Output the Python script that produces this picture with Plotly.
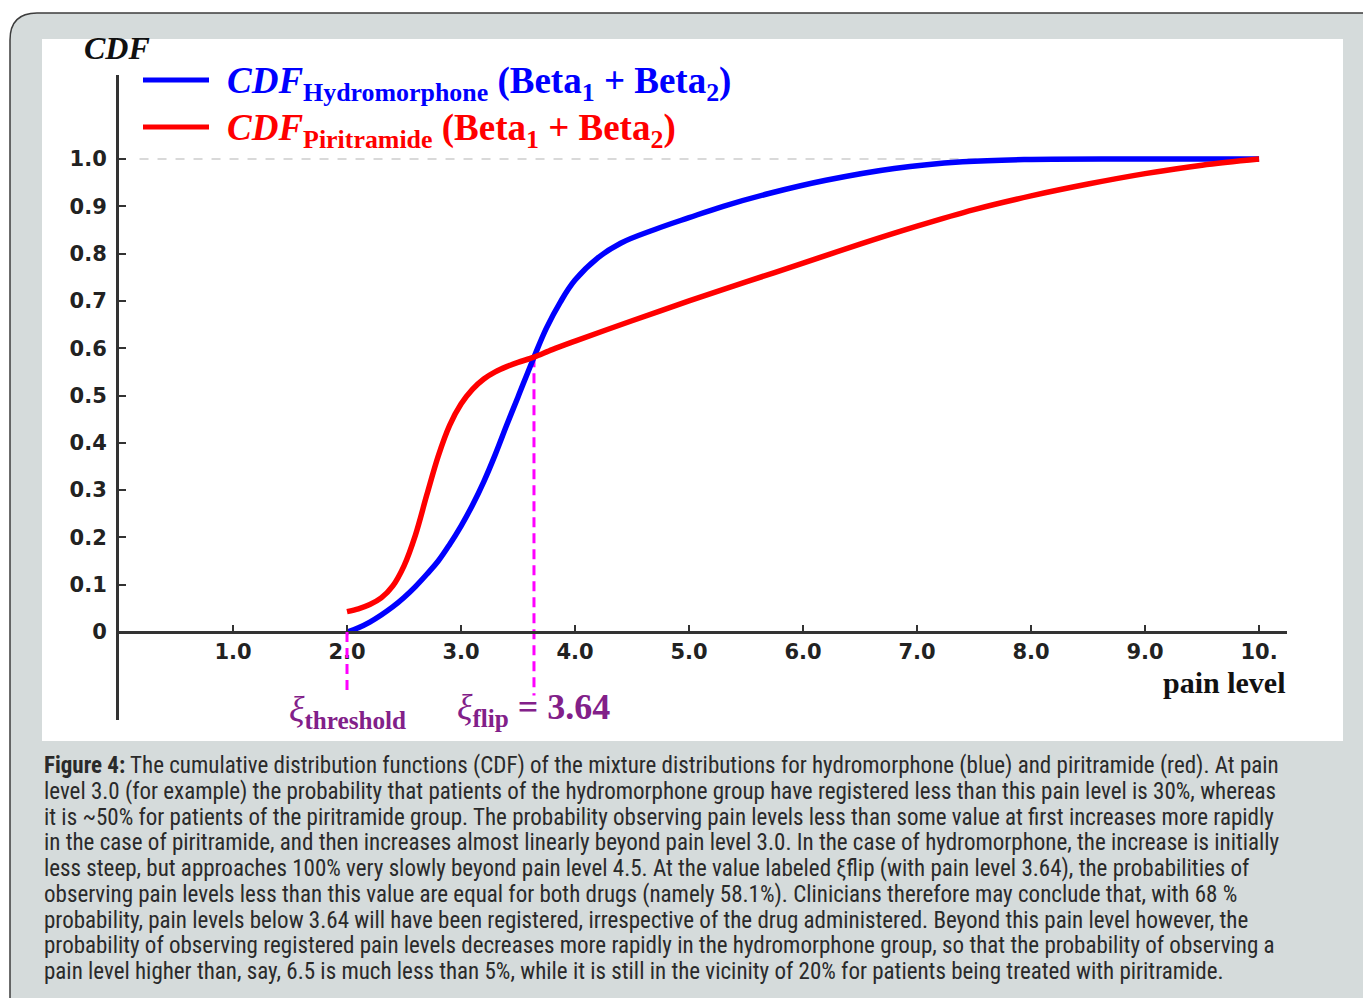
import plotly.graph_objects as go

W, H = 1363, 998

# ---- data ----
pain_hydro = [2.0, 2.1, 2.2, 2.3, 2.4, 2.5, 2.6, 2.7, 2.8, 2.9, 3.0, 3.1, 3.2, 3.3, 3.4, 3.5,
              3.64, 3.75, 3.87, 4.0, 4.2, 4.4, 4.7, 5.0, 5.3, 5.7, 6.2, 6.8, 7.4, 8.0, 9.0, 10.0]
cdf_hydro = [0.0, 0.009, 0.021, 0.036, 0.053, 0.073, 0.096, 0.122, 0.150, 0.185, 0.224, 0.268,
             0.318, 0.375, 0.437, 0.497, 0.581, 0.643, 0.697, 0.744, 0.791, 0.822, 0.851, 0.876,
             0.900, 0.927, 0.955, 0.980, 0.994, 0.999, 1.0, 1.0]

pain_pirit = [2.0, 2.1, 2.2, 2.3, 2.4, 2.5, 2.6, 2.7, 2.8, 2.9, 3.0, 3.1, 3.2, 3.3, 3.4, 3.5,
              3.64, 3.8, 4.0, 4.5, 5.0, 5.5, 6.0, 6.5, 7.0, 7.5, 8.0, 8.5, 9.0, 9.5, 10.0]
cdf_pirit = [0.043, 0.049, 0.058, 0.072, 0.097, 0.140, 0.205, 0.290, 0.372, 0.437, 0.482, 0.513,
             0.535, 0.550, 0.561, 0.570, 0.581, 0.597, 0.615, 0.658, 0.700, 0.740, 0.780, 0.820,
             0.858, 0.893, 0.922, 0.947, 0.969, 0.987, 1.0]

x_tick_vals = [1, 2, 3, 4, 5, 6, 7, 8, 9, 10]
x_tick_text = ["1.0", "2.0", "3.0", "4.0", "5.0", "6.0", "7.0", "8.0", "9.0", "10."]
y_tick_vals = [0, 0.1, 0.2, 0.3, 0.4, 0.5, 0.6, 0.7, 0.8, 0.9, 1.0]
y_tick_text = ["0", "0.1", "0.2", "0.3", "0.4", "0.5", "0.6", "0.7", "0.8", "0.9", "1.0"]

XI_THRESHOLD = 2.0
XI_FLIP = 3.64
CDF_FLIP = 0.581
CDF_MAX = 1.0

caption_lines = [
    "<b>Figure 4:</b> The cumulative distribution functions (CDF) of the mixture distributions for hydromorphone (blue) and piritramide (red). At pain",
    "level 3.0 (for example) the probability that patients of the hydromorphone group have registered less than this pain level is 30%, whereas",
    "it is ~50% for patients of the piritramide group. The probability observing pain levels less than some value at first increases more rapidly",
    "in the case of piritramide, and then increases almost linearly beyond pain level 3.0. In the case of hydromorphone, the increase is initially",
    "less steep, but approaches 100% very slowly beyond pain level 4.5. At the value labeled ξflip (with pain level 3.64), the probabilities of",
    "observing pain levels less than this value are equal for both drugs (namely 58.1%). Clinicians therefore may conclude that, with 68 %",
    "probability, pain levels below 3.64 will have been registered, irrespective of the drug administered. Beyond this pain level however, the",
    "probability of observing registered pain levels decreases more rapidly in the hydromorphone group, so that the probability of observing a",
    "pain level higher than, say, 6.5 is much less than 5%, while it is still in the vicinity of 20% for patients being treated with piritramide.",
]


def px(x):
    return x / W


def py(y):
    return 1 - y / H


SERIF = "Liberation Serif, Times New Roman, serif"
PURPLE = "#822089"
TICKFONT = dict(family="DejaVu Sans", size=21, color="#222222", weight="bold")

fig = go.Figure()
fig.add_trace(go.Scatter(x=pain_hydro, y=cdf_hydro, mode="lines",
                         line=dict(color="#0000ff", width=5.5, shape="spline", smoothing=1.1),
                         showlegend=False, hoverinfo="skip"))
fig.add_trace(go.Scatter(x=pain_pirit, y=cdf_pirit, mode="lines",
                         line=dict(color="#ff0000", width=5.5, shape="spline", smoothing=0.9),
                         showlegend=False, hoverinfo="skip"))

shapes = []
# gray outer panel with rounded top-left corner
path = (f"M {px(10)},{py(1020)} L {px(10)},{py(40)} Q {px(10)},{py(13)} {px(37)},{py(13)} "
        f"L {px(1380)},{py(13)} L {px(1380)},{py(1020)} Z")
shapes.append(dict(type="path", path=path, xref="paper", yref="paper",
                   fillcolor="#d5dbdb", line=dict(color="#3c3c3c", width=1.5), layer="below"))
# white inner panel
shapes.append(dict(type="rect", xref="paper", yref="paper", x0=px(42), x1=px(1343),
                   y0=py(741), y1=py(39), fillcolor="white", line=dict(width=0), layer="below"))
# gray dashed line at CDF = 1
shapes.append(dict(type="line", xref="x", yref="y", x0=0.18, x1=10.0, y0=CDF_MAX, y1=CDF_MAX,
                   line=dict(color="#d9d9d9", width=2, dash="9px,9px"), layer="below"))
# magenta dashed markers
shapes.append(dict(type="line", xref="x", yref="y", x0=XI_THRESHOLD, x1=XI_THRESHOLD, y0=0, y1=-0.125,
                   line=dict(color="#ff00ff", width=3, dash="10px,6px")))
shapes.append(dict(type="line", xref="x", yref="y", x0=XI_FLIP, x1=XI_FLIP, y0=CDF_FLIP, y1=-0.134,
                   line=dict(color="#ff00ff", width=3, dash="10px,6px"), layer="below"))
# legend line samples
shapes.append(dict(type="line", xref="paper", yref="paper", x0=px(143), x1=px(209), y0=py(80), y1=py(80),
                   line=dict(color="#0000ff", width=5)))
shapes.append(dict(type="line", xref="paper", yref="paper", x0=px(143), x1=px(209), y0=py(127), y1=py(127),
                   line=dict(color="#ff0000", width=5)))

annotations = []
annotations.append(dict(text="<b><i>CDF</i></b>", xref="paper", yref="paper", x=px(82), y=py(48),
                        xanchor="left", yanchor="middle", showarrow=False,
                        font=dict(family=SERIF, size=32, color="#111111")))
annotations.append(dict(text="<b><i>CDF</i></b><b><sub>Hydromorphone</sub> (Beta<sub>1</sub> + Beta<sub>2</sub>)</b>",
                        xref="paper", yref="paper", x=px(225), y=py(83), xanchor="left", yanchor="middle",
                        showarrow=False, font=dict(family=SERIF, size=37, color="#0000ff")))
annotations.append(dict(text="<b><i>CDF</i></b><b><sub>Piritramide</sub> (Beta<sub>1</sub> + Beta<sub>2</sub>)</b>",
                        xref="paper", yref="paper", x=px(225), y=py(131), xanchor="left", yanchor="middle",
                        showarrow=False, font=dict(family=SERIF, size=37, color="#ff0000")))
annotations.append(dict(text="<b>pain level</b>", xref="paper", yref="paper", x=px(1288), y=py(682),
                        xanchor="right", yanchor="middle", showarrow=False,
                        font=dict(family=SERIF, size=30, color="#111111")))
annotations.append(dict(text="<i>ξ</i><b><sub>threshold</sub></b>", xref="x", yref="y",
                        x=XI_THRESHOLD, y=-0.168, xanchor="center", yanchor="middle", showarrow=False,
                        font=dict(family=SERIF, size=36, color=PURPLE)))
annotations.append(dict(text="<i>ξ</i><b><sub>flip</sub> = 3.64</b>", xref="x", yref="y",
                        x=XI_FLIP, y=-0.163, xanchor="center", yanchor="middle", showarrow=False,
                        font=dict(family=SERIF, size=36, color=PURPLE)))

cap_y0 = 765.5
cap_dy = 25.75
for i, line in enumerate(caption_lines):
    annotations.append(dict(text=line, xref="paper", yref="paper", x=px(42), y=py(cap_y0 + i * cap_dy),
                            xanchor="left", yanchor="middle", showarrow=False,
                            font=dict(family="Liberation Sans Narrow, Roboto Condensed, Arial Narrow, Roboto, sans-serif",
                                      size=23, color="#2a2a2a")))

fig.update_layout(
    width=W, height=H,
    margin=dict(l=0, r=0, t=0, b=0),
    paper_bgcolor="white",
    plot_bgcolor="rgba(0,0,0,0)",
    shapes=shapes,
    annotations=annotations,
    xaxis=dict(domain=[px(119), px(1287)], range=[0, 10.245], anchor="free", position=py(632),
               showline=True, linecolor="#333333", linewidth=3, showgrid=False, zeroline=False,
               ticks="inside", ticklen=6, tickwidth=2, tickcolor="#333333",
               tickvals=x_tick_vals, ticktext=x_tick_text, tickfont=TICKFONT),
    yaxis=dict(domain=[py(720), py(75)], range=[(632 - 720) / 473, (632 - 75) / 473], anchor="x",
               showline=True, linecolor="#333333", linewidth=3, showgrid=False, zeroline=False,
               ticks="inside", ticklen=7, tickwidth=2, tickcolor="#333333",
               tickvals=y_tick_vals, ticktext=y_tick_text, ticklabelstandoff=5, tickfont=TICKFONT),
)

fig.write_html("out.html")
